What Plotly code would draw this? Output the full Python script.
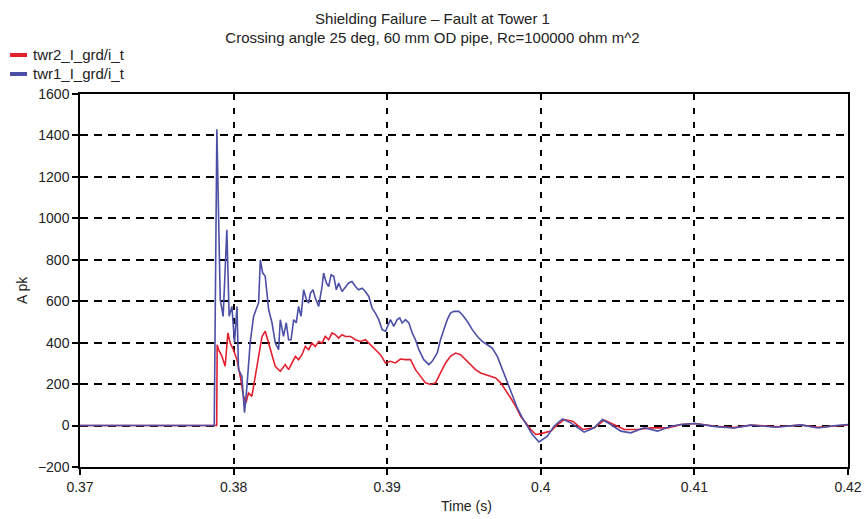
import plotly.graph_objects as go

# twr1_I_grd/i_t (blue)
t_twr1 = [0.37, 0.37874, 0.37891, 0.37913, 0.37932, 0.37956, 0.37971, 0.37989, 0.38006, 0.38022,
          0.38032, 0.38054, 0.38071, 0.38087, 0.38108, 0.38130, 0.38163, 0.38174, 0.38189, 0.38206,
          0.38228, 0.38250, 0.38271, 0.38293, 0.38304, 0.38325, 0.38343, 0.38358, 0.38374, 0.38391,
          0.38408, 0.38423, 0.38439, 0.38456, 0.38474, 0.38489, 0.38500, 0.38517, 0.38532, 0.38554,
          0.38576, 0.38586, 0.38604, 0.38619, 0.38635, 0.38652, 0.38669, 0.38684, 0.38706, 0.38728,
          0.38749, 0.38771, 0.38793, 0.38814, 0.38837, 0.38858, 0.38880, 0.38902, 0.38923, 0.38945,
          0.38967, 0.38989, 0.39010, 0.39021, 0.39043, 0.39065, 0.39082, 0.39097, 0.39119, 0.39141,
          0.39163, 0.39184, 0.39206, 0.39238, 0.39271, 0.39293, 0.39326, 0.39347, 0.39369, 0.39391,
          0.39412, 0.39434, 0.39466, 0.39489, 0.39521, 0.39554, 0.39587, 0.39619, 0.39652, 0.39684,
          0.39717, 0.39750, 0.39782, 0.39815, 0.39847, 0.39880, 0.39913, 0.39945, 0.39988, 0.40043,
          0.40086, 0.40141, 0.40195, 0.40282, 0.40347, 0.40401, 0.40456, 0.40521, 0.40586, 0.40673,
          0.40760, 0.40847, 0.40912, 0.41003, 0.41140, 0.41258, 0.41368, 0.41531, 0.41695, 0.41805,
          0.41923, 0.42]
i_twr1 = [0, 0, 1430, 607, 527, 945, 527, 575, 400, 575,
          270, 238, 62, 190, 400, 527, 593, 800, 737, 720,
          560, 496, 400, 366, 511, 430, 496, 414, 414, 511,
          496, 575, 527, 655, 607, 591, 639, 655, 615, 575,
          671, 736, 688, 671, 728, 720, 655, 688, 647, 671,
          688, 695, 671, 655, 663, 647, 623, 567, 543, 511,
          463, 455, 495, 511, 479, 511, 519, 495, 511, 495,
          447, 414, 366, 318, 294, 310, 350, 414, 463, 511,
          543, 551, 551, 535, 503, 463, 430, 406, 390, 374,
          334, 270, 206, 141, 85, 37, -3, -43, -79, -51,
          -3, 32, 13, -32, -11, 29, 5, -27, -35, -11,
          -27, -3, 5, 10, -5, -12, 2, -8, 3, -12,
          0, 5]

# twr2_I_grd/i_t (red)
t_twr2 = [0.37, 0.37890, 0.37893, 0.37902, 0.37924, 0.37945, 0.37963, 0.37978, 0.37999, 0.38022,
          0.38043, 0.38065, 0.38080, 0.38097, 0.38119, 0.38141, 0.38163, 0.38185, 0.38206, 0.38228,
          0.38250, 0.38271, 0.38304, 0.38337, 0.38358, 0.38380, 0.38402, 0.38423, 0.38445, 0.38467,
          0.38489, 0.38510, 0.38532, 0.38554, 0.38576, 0.38597, 0.38619, 0.38641, 0.38663, 0.38684,
          0.38706, 0.38728, 0.38761, 0.38793, 0.38826, 0.38858, 0.38891, 0.38923, 0.38956, 0.38989,
          0.39021, 0.39054, 0.39086, 0.39119, 0.39152, 0.39184, 0.39217, 0.39249, 0.39282, 0.39315,
          0.39347, 0.39380, 0.39412, 0.39445, 0.39478, 0.39510, 0.39543, 0.39575, 0.39608, 0.39641,
          0.39673, 0.39706, 0.39739, 0.39771, 0.39804, 0.39837, 0.39869, 0.39902, 0.39935, 0.39967,
          0.40001, 0.40066, 0.40110, 0.40153, 0.40207, 0.40273, 0.40348, 0.40414, 0.40479, 0.40544,
          0.40631, 0.40718, 0.40827, 0.40914, 0.41005, 0.41140, 0.41258, 0.41368, 0.41531, 0.41695,
          0.41805, 0.41923, 0.42]
i_twr2 = [0, 0, 390, 366, 334, 286, 447, 398, 366, 318,
          238, 141, 109, 157, 141, 238, 350, 430, 455, 398,
          334, 286, 262, 294, 270, 302, 334, 318, 342, 382,
          366, 398, 382, 406, 398, 430, 414, 447, 438, 422,
          438, 430, 430, 414, 406, 414, 390, 366, 342, 302,
          310, 302, 321, 318, 318, 270, 238, 206, 198, 206,
          254, 302, 334, 350, 342, 318, 294, 270, 254, 246,
          241, 230, 206, 173, 133, 93, 45, 13, -19, -43,
          -39, -27, 5, 29, 21, -19, -11, 26, 5, -19,
          -19, -11, -11, 5, 10, -3, -10, 3, -6, 2,
          -8, 0, 3]

series_names = ["twr2_I_grd/i_t", "twr1_I_grd/i_t"]
series_colors = ["#e4202e", "#4b4fa6"]

x_ticks = [0.37, 0.38, 0.39, 0.4, 0.41, 0.42]
x_tick_labels = ["0.37", "0.38", "0.39", "0.4", "0.41", "0.42"]
y_ticks = [-200, 0, 200, 400, 600, 800, 1000, 1200, 1400, 1600]

FONT = "Liberation Sans, Arial, sans-serif"
TXT = "#222222"

W, H = 865, 519
L, R, T, B = 80, 17, 94, 52
PW, PH = W - L - R, H - T - B


def px_to_paper(px, py):
    return (px - L) / PW, (H - B - py) / PH


fig = go.Figure()
for tx, iy, nm, col in [(t_twr2, i_twr2, series_names[0], series_colors[0]),
                        (t_twr1, i_twr1, series_names[1], series_colors[1])]:
    fig.add_trace(go.Scatter(x=tx, y=iy, mode="lines", name=nm,
                             line=dict(color=col, width=1.6), showlegend=False))

# custom legend (short thick swatches as in the reference)
for k, (nm, col) in enumerate(zip(series_names, series_colors)):
    ry = 55 + 19 * k
    x0, y0 = px_to_paper(10, ry)
    x1, _ = px_to_paper(27, ry)
    fig.add_shape(type="line", xref="paper", yref="paper", x0=x0, x1=x1, y0=y0, y1=y0,
                  line=dict(color=col, width=4))
    tx0, _ = px_to_paper(31, ry)
    fig.add_annotation(xref="paper", yref="paper", x=tx0, y=y0, xanchor="left", yanchor="middle",
                       text=nm, showarrow=False, font=dict(family=FONT, size=15, color=TXT))

# axis titles
ax, ay = px_to_paper(22, 290)
fig.add_annotation(xref="paper", yref="paper", x=ax, y=ay, xanchor="center", yanchor="middle",
                   text="A pk", textangle=-90, showarrow=False,
                   font=dict(family=FONT, size=14, color=TXT))
bx, by = px_to_paper(466, 506)
fig.add_annotation(xref="paper", yref="paper", x=bx, y=by, xanchor="center", yanchor="middle",
                   text="Time (s)", showarrow=False, font=dict(family=FONT, size=14, color=TXT))

fig.update_layout(
    width=W, height=H,
    margin=dict(l=L, r=R, t=T, b=B, autoexpand=False),
    paper_bgcolor="white", plot_bgcolor="white",
    font=dict(family=FONT, size=14, color=TXT),
    title=dict(text="Shielding Failure – Fault at Tower 1<br>Crossing angle 25 deg, 60 mm OD pipe, Rc=100000 ohm m^2",
               x=0.5, xanchor="center", y=0.954, yanchor="middle",
               font=dict(family=FONT, size=15, color=TXT)),
    showlegend=False,
    xaxis=dict(range=[0.37, 0.42], tickvals=x_ticks, ticktext=x_tick_labels,
               showgrid=True, gridcolor="black", griddash="6px,8px", gridwidth=2,
               showline=True, linecolor="black", linewidth=1.5, mirror=True,
               ticks="outside", ticklen=6, tickcolor="black", tickwidth=1.5,
               zeroline=False, tickfont=dict(size=14, color=TXT)),
    yaxis=dict(range=[-200, 1600], tickvals=y_ticks,
               showgrid=True, gridcolor="black", griddash="8px,6px", gridwidth=2,
               showline=True, linecolor="black", linewidth=1.5, mirror=True,
               ticks="outside", ticklen=6, tickcolor="black", tickwidth=1.5,
               zeroline=False, tickfont=dict(size=14, color=TXT)),
)

fig.write_html("out.html")
